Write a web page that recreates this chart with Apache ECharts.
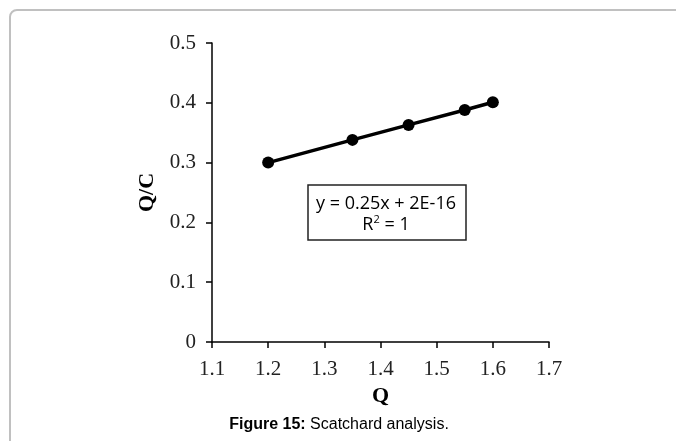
<!DOCTYPE html>
<html>
<head>
<meta charset="utf-8">
<script src="https://cdn.jsdelivr.net/npm/echarts@6/dist/echarts.min.js"></script>
<style>html,body{margin:0;padding:0;background:#fff}#c{width:676px;height:441px}</style>
</head>
<body>
<div id="c"></div>
<script>
const qValues = [1.2, 1.35, 1.45, 1.55, 1.6];
const qcValues = [0.300, 0.338, 0.363, 0.388, 0.401];
const xTicks = [1.1, 1.2, 1.3, 1.4, 1.5, 1.6, 1.7];
const yTicks = [0, 0.1, 0.2, 0.3, 0.4, 0.5];
const equationLines = ['y = 0.25x + 2E-16', 'R{sup|2} = 1'];
const captionBold = 'Figure 15:';
const captionText = ' Scatchard analysis.';

const chart = echarts.init(document.getElementById('c'));
const serif = '"Liberation Serif", "Times New Roman", serif';
chart.setOption({
  animation: false,
  backgroundColor: '#fff',
  grid: { left: 212, right: 127, top: 43, bottom: 99, containLabel: false },
  xAxis: {
    type: 'value', min: 1.1, max: 1.7, interval: 0.1,
    name: 'Q', nameLocation: 'middle', nameGap: 38,
    nameTextStyle: { fontFamily: serif, fontWeight: 'bold', fontSize: 22, color: '#000' },
    axisLine: { show: true, lineStyle: { color: '#000', width: 1.5 } },
    axisTick: { show: true, inside: false, length: 6, lineStyle: { color: '#000', width: 1.5 } },
    axisLabel: { fontFamily: serif, fontSize: 21, color: '#222', margin: 17,
      formatter: v => { const t = xTicks.find(x => Math.abs(x - v) < 1e-6); return t === undefined ? '' : t.toFixed(1); } },
    splitLine: { show: false }
  },
  yAxis: {
    type: 'value', min: 0, max: 0.5, interval: 0.1,
    name: 'Q/C', nameLocation: 'middle', nameGap: 54, nameRotate: 90,
    nameTextStyle: { fontFamily: serif, fontWeight: 'bold', fontSize: 22, color: '#000' },
    axisLine: { show: true, lineStyle: { color: '#000', width: 1.5 } },
    axisTick: { show: true, inside: false, length: 6, lineStyle: { color: '#000', width: 1.5 } },
    axisLabel: { fontFamily: serif, fontSize: 21, color: '#222', margin: 16,
      formatter: v => { const t = yTicks.find(y => Math.abs(y - v) < 1e-6); return t === undefined ? '' : (t === 0 ? '0' : t.toFixed(1)); } },
    splitLine: { show: false }
  },
  series: [{
    type: 'line',
    data: qValues.map((q, i) => [q, qcValues[i]]),
    symbol: 'circle', symbolSize: 12,
    itemStyle: { color: '#000' },
    lineStyle: { color: '#000', width: 3.5 }
  }],
  graphic: [
    { type: 'rect', shape: { x: 10, y: 10, width: 700, height: 460, r: 7 },
      style: { fill: 'none', stroke: '#c0c0c0', lineWidth: 2 }, silent: true },
    { type: 'rect', shape: { x: 308, y: 185, width: 158, height: 55 },
      style: { fill: '#fff', stroke: '#222', lineWidth: 1.5 } },
    { type: 'text', x: 386, y: 214,
      style: { text: equationLines.join('\n'), align: 'center', verticalAlign: 'middle',
        fontFamily: '"Open Sans", Lato, sans-serif', fontSize: 18, lineHeight: 21, fill: '#000',
        rich: { sup: { fontSize: 11, verticalAlign: 'top', padding: [0, 0, 9, 0], fontFamily: '"Open Sans", sans-serif' } } } },
    { type: 'text', x: 339, y: 425,
      style: { text: '{b|' + captionBold + '}' + captionText, align: 'center', verticalAlign: 'middle',
        fontFamily: '"Liberation Sans", Arial, sans-serif', fontSize: 16, fill: '#000', letterSpacing: 0.4,
        rich: { b: { fontWeight: 'bold', fontFamily: '"Liberation Sans", Arial, sans-serif', fontSize: 16 } } } }
  ]
});
</script>
</body>
</html>
